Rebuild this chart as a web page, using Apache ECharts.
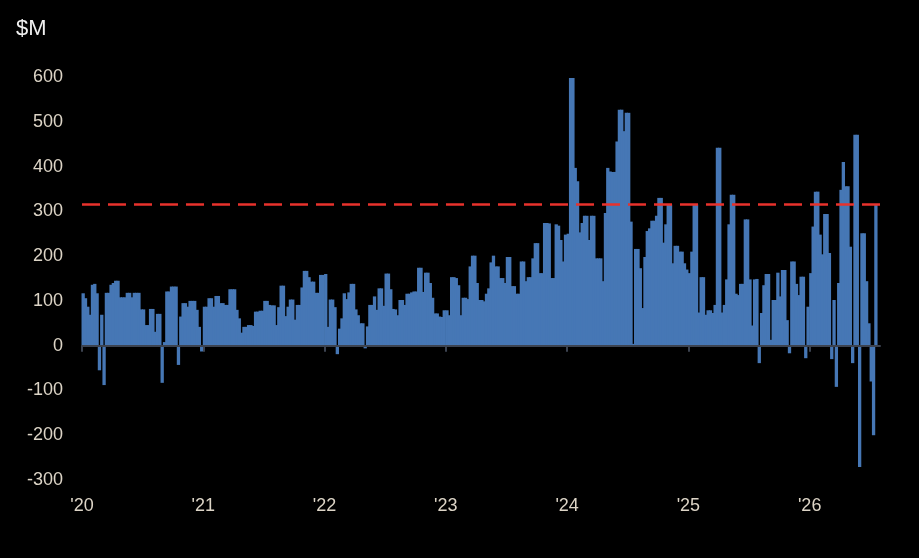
<!DOCTYPE html>
<html>
<head>
<meta charset="utf-8">
<script src="https://cdn.jsdelivr.net/npm/echarts@6/dist/echarts.min.js"></script>
<style>
html,body{margin:0;padding:0;background:#000;}
#chart{width:919px;height:558px;}
</style>
</head>
<body>
<div id="chart"></div>
<script>
// Weekly net values ($M)
const years = [2020, 2021, 2022, 2023, 2024, 2025, 2026];
const v2020 = [117,106,87,69,136,138,117,-55,69,-88,118,118,136,140,145,145,108,108,108,118,118,108,118,118,118,81,81,46,46,82,82,31,71,71,-83,8,121,121,132,132,132,-43,65,95,95,87,100,100,100,80,42,-13];
const v2021 = [87,87,106,106,87,111,111,95,95,91,91,126,126,126,80,61,29,42,42,46,46,44,76,76,78,78,100,100,91,90,90,46,86,134,134,66,87,103,103,58,91,91,130,167,167,153,143,143,118,118,158,158];
const v2022 = [160,42,103,103,86,-19,38,61,117,104,119,138,138,81,68,50,50,-6,43,91,91,110,80,128,128,89,161,161,126,82,81,68,102,102,91,116,116,119,121,121,174,174,120,163,163,140,107,72,72,65,64,79];
const v2023 = [79,68,153,153,151,135,68,107,107,104,177,201,201,140,102,102,99,116,128,186,201,177,177,151,151,140,198,198,133,133,116,116,188,188,144,153,153,195,229,229,162,162,274,274,273,151,151,271,268,236,188,248];
const v2024 = [250,598,598,397,367,253,274,290,290,236,290,290,195,195,195,144,296,397,389,388,388,456,527,527,479,520,520,277,4,216,216,173,84,198,256,262,279,279,290,330,330,230,271,315,315,184,223,223,210,210,184,170];
const v2025 = [162,210,315,315,74,153,153,69,79,79,73,91,442,442,74,91,148,271,337,337,116,113,138,138,282,282,148,45,148,149,-39,73,135,160,160,13,102,102,163,110,169,169,57,-17,188,188,138,113,154,154,-28,87];
const v2026 = [162,266,344,344,248,204,294,294,207,-30,102,-92,140,348,410,356,356,221,-39,471,471,-271,251,251,144,50,-80,-200,315];
const yearValues = [v2020, v2021, v2022, v2023, v2024, v2025, v2026];
const referenceLevel = 315;
const xTickYears = [2020, 2021, 2022, 2023, 2024, 2025, 2026];
const weeksPerYear = 52.18;

const data = [];
years.forEach(function (y, k) {
  yearValues[k].forEach(function (v, i) {
    data.push([y + (i + 0.5) / weeksPerYear, v]);
  });
});

const labelFont = "'Liberation Sans', Arial, sans-serif";
const labelColor = '#dcd4c6';

const chart = echarts.init(document.getElementById('chart'), null, {renderer: 'canvas'});
chart.setOption({
  backgroundColor: '#000000',
  animation: false,
  grid: {left: 82, right: 39, top: 77, bottom: 78, containLabel: false},
  graphic: [{
    type: 'text', left: 16, top: 18,
    style: {text: '$M', fill: '#f0f0f0', font: "22px 'Liberation Sans', Arial, sans-serif"}
  }],
  xAxis: [{
    type: 'value', min: 2020, max: 2026.58, interval: 1,
    z: 5,
    axisLine: {show: true, onZero: true, lineStyle: {color: '#3c4350', width: 2}},
    axisTick: {show: true, length: 6, customValues: xTickYears, lineStyle: {color: '#3c4350', width: 2}},
    axisLabel: {show: false},
    splitLine: {show: false}
  }, {
    type: 'value', min: 2020, max: 2026.58, interval: 1, position: 'bottom',
    axisLine: {show: false, onZero: false},
    axisTick: {show: false},
    splitLine: {show: false},
    axisLabel: {
      show: true, margin: 17, color: labelColor, fontSize: 18, fontFamily: labelFont,
      customValues: xTickYears,
      formatter: function (v) { return Number.isInteger(v) ? "'" + String(v).slice(2) : ''; }
    }
  }],
  yAxis: {
    type: 'value', min: -300, max: 600, interval: 100,
    axisLine: {show: false}, axisTick: {show: false}, splitLine: {show: false},
    axisLabel: {margin: 19, color: labelColor, fontSize: 18, fontFamily: labelFont}
  },
  series: [{
    type: 'bar',
    xAxisIndex: 0,
    data: data,
    barWidth: 3.3,
    itemStyle: {color: '#4677b5', borderWidth: 0},
    markLine: {
      silent: true, symbol: 'none', label: {show: false},
      lineStyle: {color: '#e8322c', type: [18, 8], width: 2.5},
      data: [{yAxis: referenceLevel}]
    }
  }]
});
</script>
</body>
</html>
